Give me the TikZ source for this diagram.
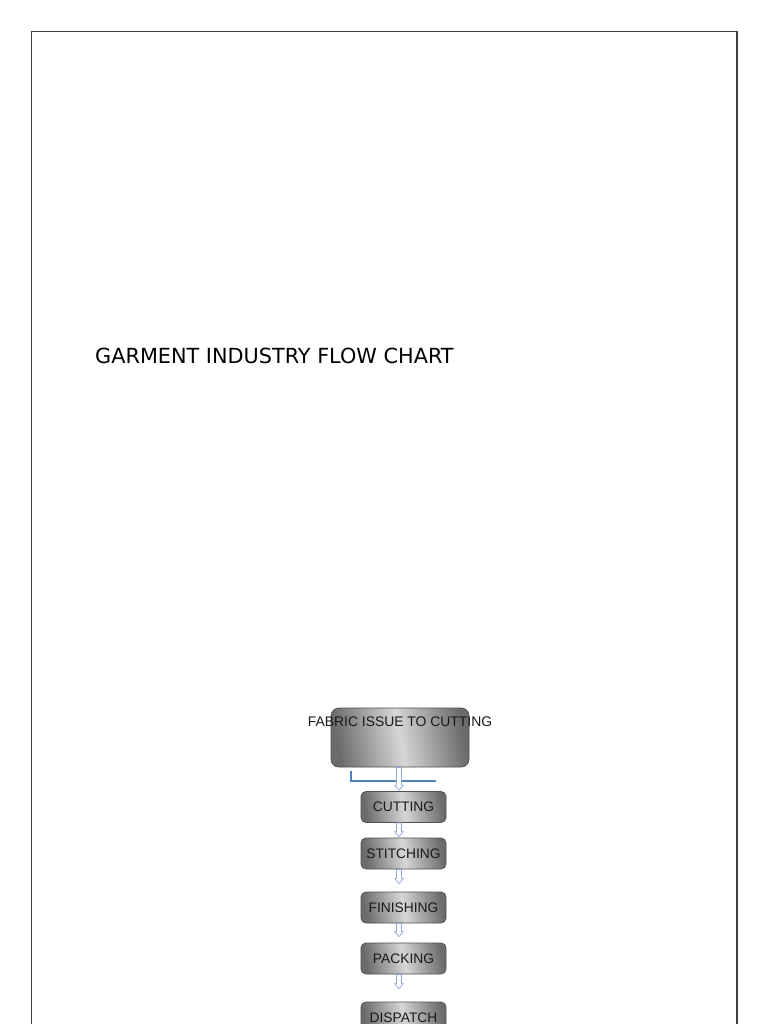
\documentclass[tikz,border=0pt]{standalone}
\usepackage{fontspec}
\setmainfont{Liberation Sans}
\newfontfamily\titlefont{DejaVu Sans}
\usetikzlibrary{positioning,calc}

\definecolor{boxedge}{HTML}{505050}
\definecolor{bracketblue}{HTML}{4F81BD}
\definecolor{arrowblue}{HTML}{8EAADB}

% hollow block arrow: source, target, gap before target
\newcommand{\flowarrow}[3]{%
  \draw[hollowarrow] let \p1=(#1.south), \p2=(#2.north), \p3=(axis) in
    (\x3-2.5pt,\y1) -- (\x3-2.5pt,\y2+#3+5pt) -- (\x3-4.5pt,\y2+#3+5pt)
    -- (\x3,\y2+#3) -- (\x3+4.5pt,\y2+#3+5pt) -- (\x3+2.5pt,\y2+#3+5pt)
    -- (\x3+2.5pt,\y1) -- cycle;}

\begin{document}
\begin{tikzpicture}[x=1pt,y=-1pt,
  pageframe/.style={draw=black!75, line width=1.8pt},
  flowbox/.style={draw=boxedge, line width=0.8pt, rounded corners=5pt,
    left color=black!58, right color=black!58, middle color=black!16,
    shading angle=100, minimum width=85pt, minimum height=31pt, inner sep=0pt,
    text=black!90, font=\fontsize{13.8}{16}\selectfont},
  boxtext/.style={text=black!90, inner sep=0pt, font=\fontsize{13.9}{16}\selectfont},
  hollowarrow/.style={draw=arrowblue, fill=white, line width=0.7pt},
  bracket/.style={draw=bracketblue, line width=1.6pt}]
\useasboundingbox (0,0) rectangle (768,1024);
\clip (0,0) rectangle (768,1024);
\fill[white] (0,0) rectangle (768,1024);

% page frame
\draw[pageframe] (31.5,1030) -- (31.5,31.5) -- (737,31.5) -- (737,1030);

% title
\node[anchor=west, inner sep=0pt, font=\titlefont\fontsize{20.8}{24}\selectfont] (title) at (95,356) {GARMENT INDUSTRY FLOW CHART};

% flow boxes
\coordinate (axis) at (399,0);
\node[flowbox, minimum width=138pt, minimum height=59pt, rounded corners=8pt] (fabric) at (400,737.5) {};
\node[boxtext] (fabrictext) at ([yshift=-14pt]fabric.north) {FABRIC ISSUE TO CUTTING};
\node[flowbox] (cutting) at (403.5,807) {CUTTING};
\node[flowbox] (stitching) at (403.5,853.5) {STITCHING};
\node[flowbox] (finishing) at (403.5,907.5) {FINISHING};
\node[flowbox] (packing) at (403.5,958.5) {PACKING};
\node[flowbox] (dispatch) at (403.5,1017.5) {DISPATCH};

% bracket under first box
\coordinate (brtop) at (351,771);
\coordinate (brend) at (436,781);
\draw[bracket] (brtop) |- (brend);

% arrows
\flowarrow{fabric}{cutting}{1pt}
\flowarrow{cutting}{stitching}{1pt}
\flowarrow{stitching}{finishing}{8pt}
\flowarrow{finishing}{packing}{6pt}
\flowarrow{packing}{dispatch}{13pt}
\end{tikzpicture}
\end{document}
